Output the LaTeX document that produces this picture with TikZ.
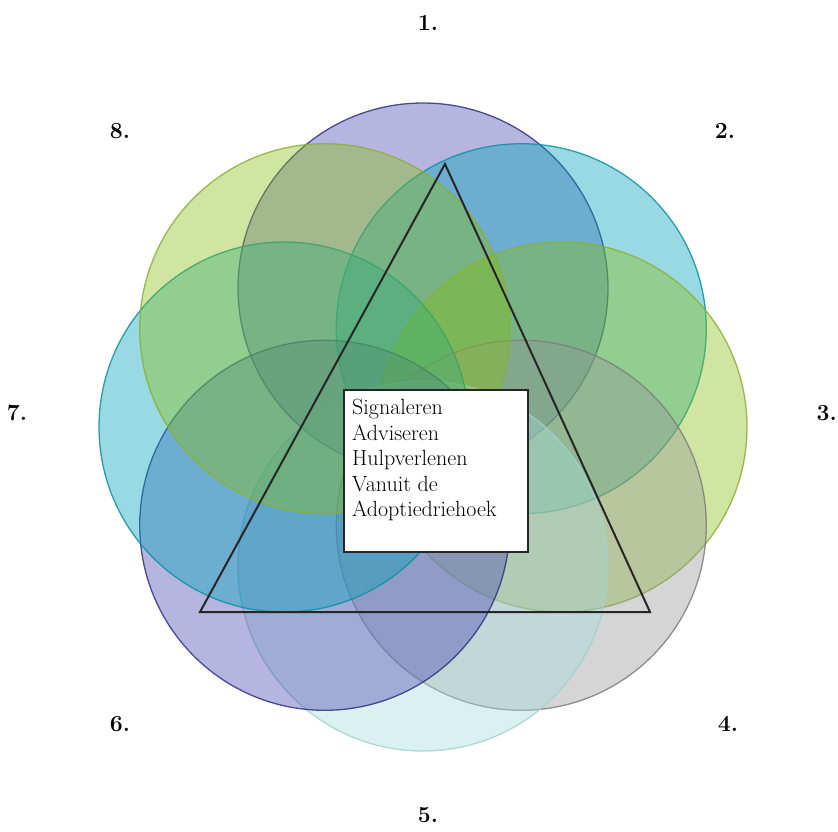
\documentclass[tikz,border=0pt]{standalone}
\usepackage{xcolor}
\usepackage{tikz}
\usetikzlibrary{positioning,calc}
\definecolor{paars}{RGB}{70,70,175}
\definecolor{paarsrand}{RGB}{50,50,130}
\definecolor{petrol}{RGB}{0,160,185}
\definecolor{petrolrand}{RGB}{10,145,160}
\definecolor{geelgroen}{RGB}{135,190,20}
\definecolor{geelgroenrand}{RGB}{140,175,50}
\definecolor{grijs}{RGB}{150,150,150}
\definecolor{grijsrand}{RGB}{125,125,125}
\definecolor{lichtpetrol}{RGB}{165,218,218}
\definecolor{lichtpetrolrand}{RGB}{160,210,210}
\tikzset{
  ring/.style={line width=1.3pt, fill opacity=0.4, draw opacity=0.85},
  nummer/.style={font=\fontsize{23}{26}\selectfont\bfseries, inner sep=0pt},
  kader/.style={rectangle, draw=black!85, line width=1.6pt, fill=white,
                minimum width=184pt, minimum height=162pt, inner sep=0pt},
  tekst/.style={align=left, inner sep=0pt, font=\fontsize{22}{25.5}\selectfont},
  driehoek/.style={draw=black!85, line width=2pt, line join=miter},
}
\begin{document}
\begin{tikzpicture}[x=1pt, y=-1pt]
  \useasboundingbox (0,0) rectangle (838,831);
  \clip (0,0) rectangle (838,831);
  \coordinate (m) at (423,427);
  % acht cirkels rond het midden
  \foreach \a/\c/\r in {90/paars/paarsrand, 45/petrol/petrolrand,
      0/geelgroen/geelgroenrand, -45/grijs/grijsrand,
      -90/lichtpetrol/lichtpetrolrand, -135/paars/paarsrand,
      180/petrol/petrolrand, 135/geelgroen/geelgroenrand} {
    \filldraw[ring, fill=\c, draw=\r] ([shift={(\a:139pt)}]m) circle (185pt);
  }
  \coordinate (top) at (445,164);
  \coordinate (lo) at (200,612);
  \coordinate (ro) at (650,612);
  \draw[driehoek] (top) -- (lo) -- (ro) -- cycle;
  \node[kader, anchor=north west] (kern) at (343,389) {};
  \node[tekst, anchor=north west] (woorden) at ([shift={(9pt,-10pt)}]kern.north west)
    {Signaleren\\ Adviseren\\ Hulpverlenen\\ Vanuit de\\ Adoptiedriehoek};
  \node[nummer] (n1) at (428,23) {1.};
  \node[nummer] (n2) at (725,131) {2.};
  \node[nummer, anchor=east] (n3) at (837,413) {3.};
  \node[nummer] (n4) at (728,724) {4.};
  \node[nummer] (n5) at (428,815) {5.};
  \node[nummer] (n6) at (120,724) {6.};
  \node[nummer] (n7) at (17,413) {7.};
  \node[nummer] (n8) at (120,131) {8.};
\end{tikzpicture}
\end{document}
